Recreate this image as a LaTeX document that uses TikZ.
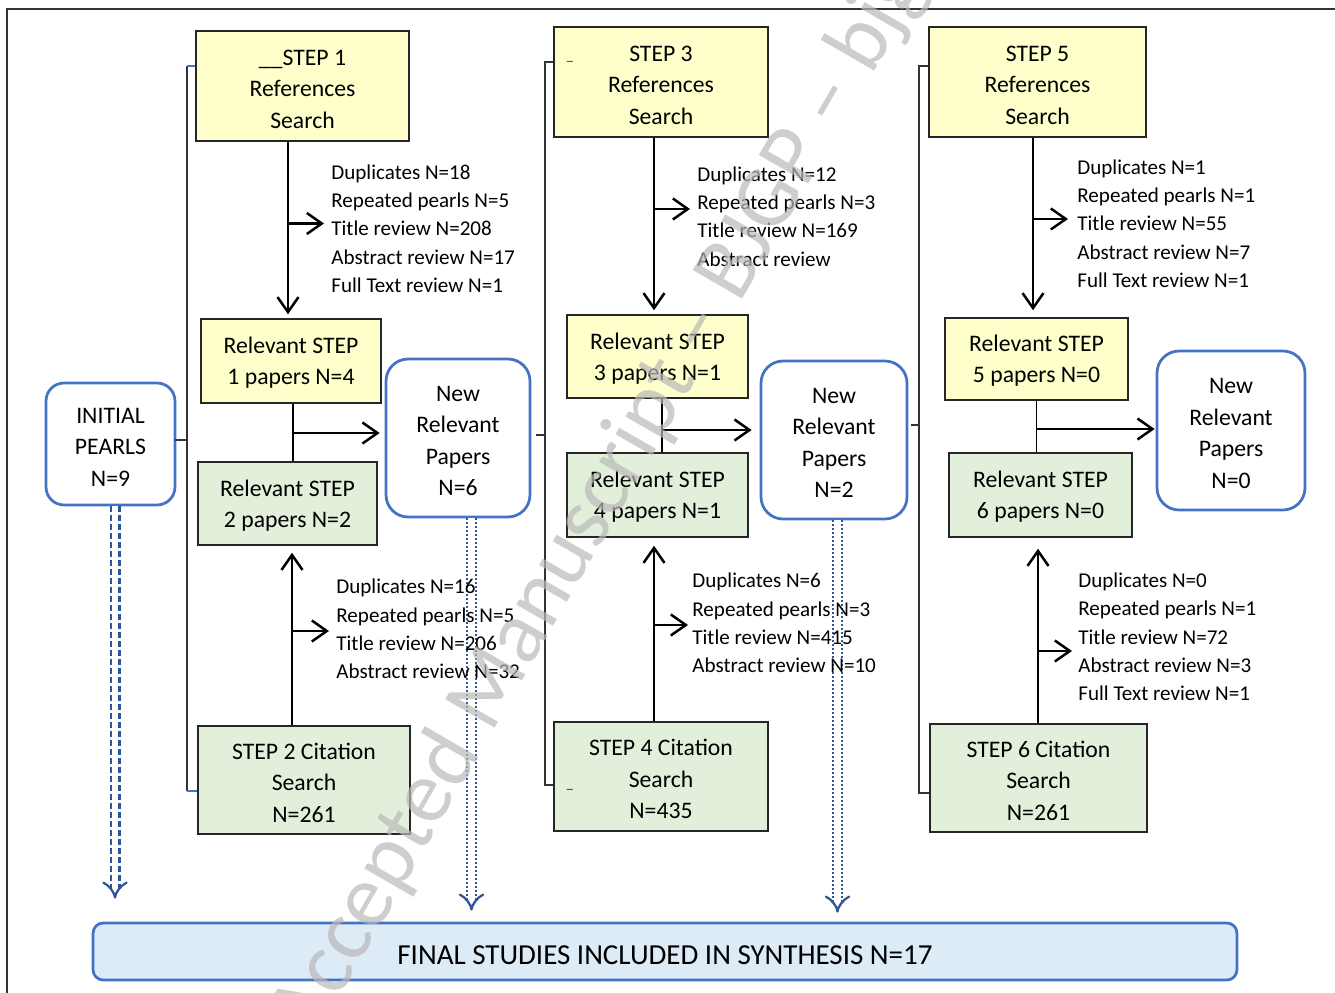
\documentclass[tikz,border=0pt]{standalone}
\usepackage{fontspec}
\setmainfont{Carlito}
\usetikzlibrary{arrows.meta,calc}
\definecolor{refyellow}{RGB}{255,255,204}
\definecolor{citegreen}{RGB}{226,239,218}
\definecolor{newblue}{RGB}{68,114,196}
\definecolor{finalblue}{RGB}{221,235,247}
\definecolor{pearlblue}{RGB}{47,85,151}
\definecolor{stampgray}{RGB}{185,185,185}

\begin{document}
\begin{tikzpicture}[x=0.02cm,y=-0.02cm,
  box/.style={draw=black!85, line width=0.03cm, align=center, inner sep=0pt, text depth=0pt, font=\fontsize{13.5}{17.9}\selectfont},
  refbox/.style={box, fill=refyellow},
  citebox/.style={box, fill=citegreen},
  threeline/.style={text height=47.9pt},
  newbox/.style={box, draw=newblue, line width=0.055cm, fill=white, rounded corners=0.44cm, text height=65.8pt},
  note/.style={anchor=west, align=left, inner sep=0pt, font=\fontsize{12}{16.1}\selectfont},
  flow/.style={line width=0.05cm, -{Straight Barb[length=0.3cm,width=0.42cm]}},
  link/.style={line width=0.03cm},
  brace/.style={line width=0.025cm, black!80},
  pearls/.style={pearlblue, line width=0.045cm, double=white, double distance=0.13cm, -{Implies}}]
\useasboundingbox (0,0) rectangle (1335,993);
\draw[line width=0.03cm, black!80] (1335,9) -- (7,9) -- (7,993);

% dashed and dotted arrows to the final box
\node[box, draw=newblue, line width=0.055cm, fill=finalblue, rounded corners=0.2cm, minimum width=22.88cm, minimum height=1.14cm, text height=15.2pt, font=\fontsize{16.5}{20}\selectfont] (final) at (665,951.5) {FINAL STUDIES INCLUDED IN SYNTHESIS N=17};
\node[newbox, threeline, rounded corners=0.36cm, minimum width=2.58cm, minimum height=2.44cm] (init) at (110.5,444) {INITIAL\\PEARLS\\N=9};
\node[newbox, minimum width=2.88cm, minimum height=3.16cm] (new1) at (458,438) {New\\Relevant\\Papers\\N=6};
\node[newbox, minimum width=2.92cm, minimum height=3.16cm] (new2) at (834,440) {New\\Relevant\\Papers\\N=2};
\node[newbox, minimum width=2.96cm, minimum height=3.18cm] (new3) at (1231,430.5) {New\\Relevant\\Papers\\N=0};
\draw[pearls, dash pattern=on 0.12cm off 0.06cm, shorten >=0.46cm] ($(init.south)+(4.5,0)$) -- ($(init.south |- final.north)+(4.5,0)$);
\draw[pearls, dash pattern=on 0.04cm off 0.04cm, shorten >=0.22cm] ($(new1.south)+(13.5,0)$) -- ($(new1.south |- final.north)+(13.5,0)$);
\draw[pearls, dash pattern=on 0.04cm off 0.04cm, shorten >=0.18cm] ($(new2.south)+(3.5,0)$) -- ($(new2.south |- final.north)+(3.5,0)$);

% brackets
\draw[brace] (187,66) -- (187,791);
\draw[brace, newblue] (187,66) -- (196,66);
\draw[brace, newblue] (187,791) -- (198,791);
\draw[brace] (175,440) -- (187,440);
\draw[brace] (554,62) -- (545,62) -- (545,785) -- (554,785);
\draw[brace] (536,435) -- (545,435);
\draw[brace] (929,66) -- (919,66) -- (919,793) -- (930,793);
\draw[brace] (911,425) -- (919,425);

% step 1 and 2
\node[refbox, threeline, minimum width=4.26cm, minimum height=2.2cm] (ref1) at (302.5,86) {\_\_STEP 1\\References\\Search};
\node[refbox, minimum width=3.6cm, minimum height=1.68cm] (rel1) at (291,361) {Relevant STEP\\1 papers N=4};
\node[citebox, minimum width=3.58cm, minimum height=1.66cm] (rel2) at (287.5,503.5) {Relevant STEP\\2 papers N=2};
\node[citebox, threeline, minimum width=4.24cm, minimum height=2.16cm] (cit2) at (304,780) {STEP 2 Citation\\Search\\N=261};
\node[note] (note1) at (331,228.5) {Duplicates N=18\\Repeated pearls N=5\\Title review N=208\\Abstract review N=17\\Full Text review N=1};
\node[note] (note2) at (336,629) {Duplicates N=16\\Repeated pearls N=5\\Title review N=206\\Abstract review N=32};
\draw[flow, shorten >=0.08cm] ($(ref1.south -| rel1.north)+(-3,0)$) -- ($(rel1.north)+(-3,0)$);
\draw[flow, shorten >=0.14cm] ($(rel1.north |- note1.west)+(-3,-5)$) -- ($(note1.west)+(0,-5)$);
\draw[link] ($(rel1.south)+(2,0)$) -- ($(rel1.south |- rel2.north)+(2,0)$);
\draw[flow, shorten >=0.1cm] ($(rel1.south |- new1.west)+(2,-5)$) -- ($(new1.west)+(0,-5)$);
\draw[flow, shorten >=0.14cm] ($(cit2.north -| rel2.south)+(4.5,0)$) -- ($(rel2.south)+(4.5,0)$);
\draw[flow, shorten >=0.14cm] ($(rel2.south |- note2.west)+(4.5,2)$) -- ($(note2.west)+(0,2)$);

% step 3 and 4
\node[refbox, threeline, minimum width=4.28cm, minimum height=2.2cm] (ref3) at (661,82) {STEP 3\\References\\Search};
\node[refbox, minimum width=3.62cm, minimum height=1.66cm] (rel3) at (657.5,356.5) {Relevant STEP\\3 papers N=1};
\node[citebox, minimum width=3.62cm, minimum height=1.68cm] (rel4) at (657.5,495) {Relevant STEP\\4 papers N=1};
\node[citebox, threeline, minimum width=4.28cm, minimum height=2.18cm] (cit4) at (661,776.5) {STEP 4 Citation\\Search\\N=435};
\node[inner sep=0pt, font=\fontsize{7}{7}\selectfont] (mark3) at (570,61) {\_};
\node[inner sep=0pt, font=\fontsize{7}{7}\selectfont] (mark4) at (570,789) {\_};
\node[note] (note3) at (697,216.5) {Duplicates N=12\\Repeated pearls N=3\\Title review N=169\\Abstract review};
\node[note] (note4) at (692,623) {Duplicates N=6\\Repeated pearls N=3\\Title review N=415\\Abstract review N=10};
\draw[flow, shorten >=0.08cm] ($(ref3.south -| rel3.north)+(-3.5,0)$) -- ($(rel3.north)+(-3.5,0)$);
\draw[flow, shorten >=0.14cm] ($(rel3.north |- note3.west)+(-3.5,-7.5)$) -- ($(note3.west)+(0,-7.5)$);
\draw[link] ($(rel3.south)+(4.5,0)$) -- ($(rel3.south |- rel4.north)+(4.5,0)$);
\draw[flow, shorten >=0.16cm] ($(rel3.south |- new2.west)+(4.5,-10)$) -- ($(new2.west)+(0,-10)$);
\draw[flow, shorten >=0.16cm] ($(cit4.north -| rel4.south)+(-3.5,0)$) -- ($(rel4.south)+(-3.5,0)$);
\draw[flow, shorten >=0.08cm] ($(rel4.south |- note4.west)+(-3.5,2)$) -- ($(note4.west)+(0,2)$);

% step 5 and 6
\node[refbox, threeline, minimum width=4.34cm, minimum height=2.2cm] (ref5) at (1037.5,82) {STEP 5\\References\\Search};
\node[refbox, minimum width=3.66cm, minimum height=1.64cm] (rel5) at (1036.5,359) {Relevant STEP\\5 papers N=0};
\node[citebox, minimum width=3.66cm, minimum height=1.68cm] (rel6) at (1040.5,495) {Relevant STEP\\6 papers N=0};
\node[citebox, threeline, minimum width=4.34cm, minimum height=2.16cm] (cit6) at (1038.5,778) {STEP 6 Citation\\Search\\N=261};
\node[note] (note5) at (1077,223.5) {Duplicates N=1\\Repeated pearls N=1\\Title review N=55\\Abstract review N=7\\Full Text review N=1};
\node[note] (note6) at (1078,637) {Duplicates N=0\\Repeated pearls N=1\\Title review N=72\\Abstract review N=3\\Full Text review N=1};
\draw[flow, shorten >=0.14cm] ($(ref5.south -| rel5.north)+(-3.5,0)$) -- ($(rel5.north)+(-3.5,0)$);
\draw[flow, shorten >=0.18cm] ($(rel5.north |- note5.west)+(-3.5,-4.5)$) -- ($(note5.west)+(0,-4.5)$);
\draw[link] (rel5.south) -- (rel5.south |- rel6.north);
\draw[flow, shorten >=0.02cm] ($(rel5.south |- new3.west)+(0,-1.5)$) -- ($(new3.west)+(0,-1.5)$);
\draw[flow, shorten >=0.22cm] ($(cit6.north -| rel6.south)+(-2.5,0)$) -- ($(rel6.south)+(-2.5,0)$);
\draw[flow, shorten >=0.12cm] ($(rel6.south |- note6.west)+(-2.5,14)$) -- ($(note6.west)+(0,14)$);

% watermark
\begin{scope}
\clip (0,0) rectangle (1335,993);
\node[rotate=60, text=stampgray, text opacity=0.7, inner sep=0pt, font=\fontsize{50.6}{60}\selectfont] (stamp) at (611,481) {Accepted Manuscript – BJGP – bjgp};
\end{scope}
\end{tikzpicture}
\end{document}
